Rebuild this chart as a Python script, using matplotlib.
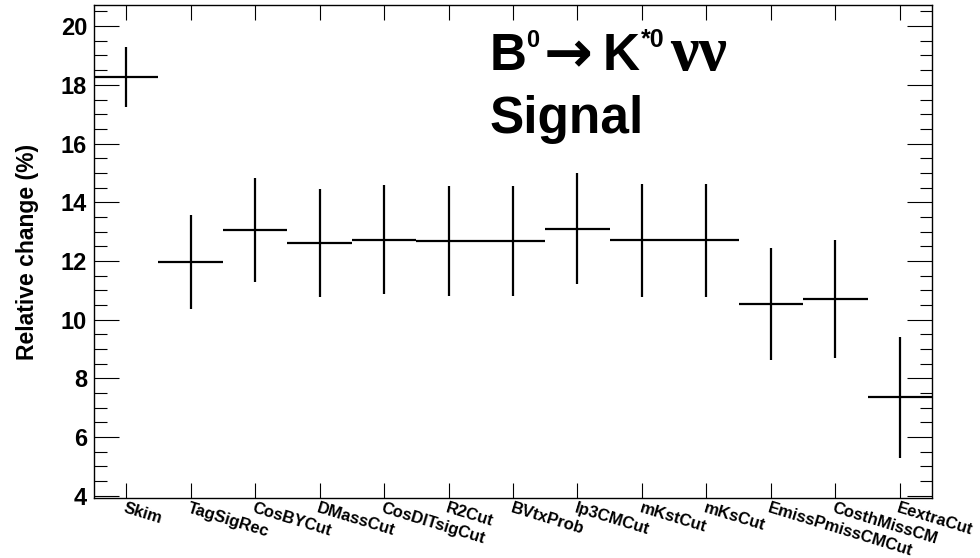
import numpy as np
import matplotlib.pyplot as plt
from matplotlib.ticker import MultipleLocator

plt.rcParams['font.family'] = ['Liberation Sans', 'DejaVu Sans']

cuts = ['Skim', 'TagSigRec', 'CosBYCut', 'DMassCut', 'CosDlTsigCut', 'R2Cut',
        'BVtxProb', 'Ip3CMCut', 'mKstCut', 'mKsCut', 'EmissPmissCMCut',
        'CosthMissCM', 'EextraCut']
change = [18.27, 11.96, 13.06, 12.61, 12.72, 12.68, 12.68, 13.10, 12.70, 12.70,
          10.53, 10.70, 7.35]
err = [1.03, 1.61, 1.77, 1.85, 1.85, 1.86, 1.86, 1.88, 1.93, 1.93, 1.92, 2.0, 2.05]

x = np.arange(len(cuts))

W, H = 980, 558
fig = plt.figure(figsize=(W / 100, H / 100), dpi=100)
ax = fig.add_axes([0.0959, 0.1075, 0.8551, 0.8835])

ax.errorbar(x, change, xerr=0.5, yerr=err, fmt='none', ecolor='black',
            elinewidth=1.6, capsize=0)

ax.set_xlim(-0.5, len(cuts) - 0.5)
ax.set_ylim(3.92, 20.72)

ax.set_xticks(x)
ax.set_xticklabels(cuts, rotation=-17, ha='left', va='top',
                   rotation_mode='anchor', fontsize=12, fontweight='bold')
ax.yaxis.set_major_locator(MultipleLocator(2))
ax.yaxis.set_minor_locator(MultipleLocator(0.5))
ax.tick_params(axis='y', which='major', direction='in', length=18, width=0.8,
               labelsize=17, right=True, pad=5)
ax.tick_params(axis='y', which='minor', direction='in', length=9, width=0.8,
               right=True)
ax.tick_params(axis='x', which='major', direction='in', length=11, width=0.8,
               top=True, pad=2)
for lab in ax.get_yticklabels():
    lab.set_fontweight('bold')

for s in ax.spines.values():
    s.set_linewidth(1.0)

ax.set_ylabel('Relative change (%)', fontsize=16.5, fontweight='bold')
ax.yaxis.set_label_coords(-0.066, 0.5)


# title pieces, placed in figure pixels (x, baseline y from top)
def put(s, px, py, size, family=None, weight='bold'):
    fig.text(px / W, 1 - py / H, s, fontsize=size, fontweight=weight,
             ha='left', va='baseline', family=family or ['Liberation Sans'])


put('B', 490, 70, 37)
put('0', 526, 47, 17)
put('\u2192', 544, 72, 42, ['DejaVu Sans'])
put('K', 603, 70, 37)
put('*0', 641, 47, 18)
put('\u03bd\u03bd', 670, 70, 46, ['Liberation Serif'])
put('Signal', 490, 133, 37)

fig.savefig('out.png', dpi=100)
